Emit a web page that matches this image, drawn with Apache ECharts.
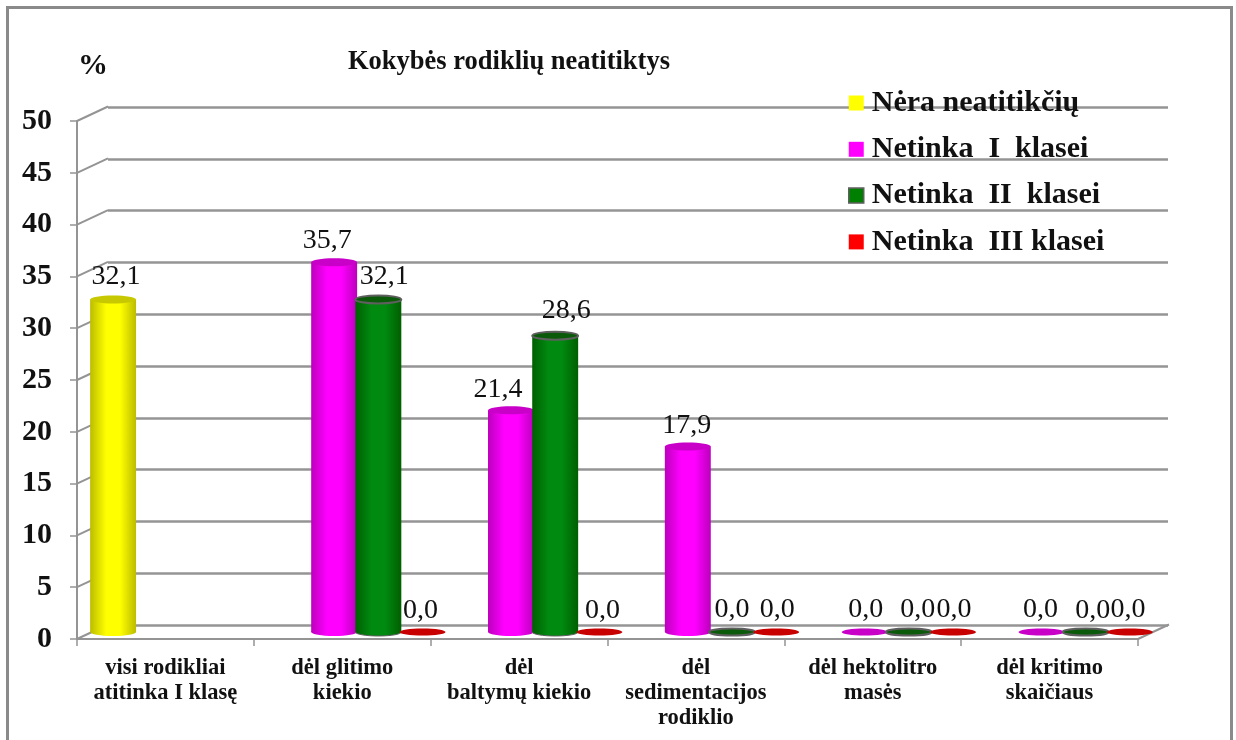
<!DOCTYPE html>
<html>
<head>
<meta charset="utf-8">
<title>Kokybės rodiklių neatitiktys</title>
<style>html, body { margin: 0; background: #fff; } #chart { width: 1236px; height: 740px; }</style>
<script src="https://cdn.jsdelivr.net/npm/echarts@6/dist/echarts.min.js"></script>
</head>
<body>
<div id="chart"></div>
<script>
const categories = [
  'visi rodikliai\natitinka I klasę',
  'dėl glitimo\nkiekio',
  'dėl\nbaltymų kiekio',
  'dėl\nsedimentacijos\nrodiklio',
  'dėl hektolitro\nmasės',
  'dėl kritimo\nskaičiaus',
];
const noMismatch = [32.1, null, null, null, null, null];
const failClass1 = [null, 35.7, 21.4, 17.9, 0, 0];
const failClass2 = [null, 32.1, 28.6, 0, 0, 0];
const failClass3 = [null, 0, 0, 0, 0, 0];
const yTicks = [0, 5, 10, 15, 20, 25, 30, 35, 40, 45, 50];

// nudges for the hand-placed value labels, [dx, dy] by "series-category"
const labelNudge = {
  '0-0': [3, -3], '1-1': [-7, -2], '2-1': [6, -3], '3-1': [-2, -1],
  '1-2': [-13, -1], '2-2': [11, -5], '3-2': [3, -1],
  '1-3': [-1, -1], '2-3': [0, -2], '3-3': [1, -2],
  '1-4': [1, -2], '2-4': [9, -2], '3-4': [1, -2],
  '1-5': [-1, -2], '2-5': [7, -1], '3-5': [-2, -2],
};

const SERIF = '"Liberation Serif", "Times New Roman", serif';
const GRID_GREY = '#949494';
const DEPTH_X = 31, DEPTH_Y = 14.5;   // front plane to back wall
const BAR_DX = 14, BAR_DY = 7;        // cylinders stand mid depth

function pal(edge, mid, cap, stroke) { return { edge, mid, cap, stroke }; }
const palettes = [
  pal('#bcbc00', '#ffff00', '#c8c800', null),
  pal('#bc00bc', '#ff00ff', '#c800c8', null),
  pal('#005f00', '#008a10', '#0a5a0a', '#5f5f5f'),
  pal('#bc0000', '#ff0000', '#c80000', null),
];

function cylinder(seriesIdx) {
  return function (params, api) {
    const val = api.value(1);
    if (val == null || isNaN(val)) return;
    const cat = api.value(0);
    const band = api.size([1, 0])[0];
    const step = band / 4;
    const w = band / 3.85;
    const top = api.coord([cat, val]);
    const base = api.coord([cat, 0]);
    const cx = top[0] + (seriesIdx - 1.5) * step + BAR_DX;
    const yTop = top[1] - BAR_DY, yBase = base[1] - BAR_DY;
    const rx = w / 2, ry = 4;
    const p = palettes[seriesIdx];
    const fill = new echarts.graphic.LinearGradient(0, 0, 1, 0, [
      { offset: 0, color: p.edge }, { offset: 0.35, color: p.mid },
      { offset: 0.65, color: p.mid }, { offset: 1, color: p.edge },
    ]);
    const capStyle = { fill: p.cap, stroke: p.stroke || 'none', lineWidth: 2 };
    const bodyStyle = { fill, stroke: p.stroke || 'none', lineWidth: 1 };
    const children = [];
    if (val > 0) {
      children.push(
        { type: 'ellipse', shape: { cx, cy: yBase, rx, ry }, style: bodyStyle },
        { type: 'rect', shape: { x: cx - rx, y: yTop, width: w, height: yBase - yTop }, style: { fill } }
      );
    }
    children.push({ type: 'ellipse', shape: { cx, cy: yTop, rx, ry: val > 0 ? ry : 3.6 }, style: capStyle });
    const n = labelNudge[seriesIdx + '-' + cat] || [0, 0];
    children.push({
      type: 'text', z2: 5,
      style: {
        x: cx + n[0], y: yTop - 6 + n[1], text: val.toFixed(1).replace('.', ','),
        font: '28px ' + SERIF, fill: '#111', textAlign: 'center', textVerticalAlign: 'bottom',
      },
    });
    return { type: 'group', children };
  };
}

// slanted lines joining the front axis to the back wall
function depthLine(params, api) {
  const v = api.value(0);
  const y = api.coord([0, v])[1];
  const x0 = api.coord([0, v])[0] - api.size([1, 0])[0] / 2;
  return {
    type: 'line',
    shape: { x1: x0, y1: y, x2: x0 + DEPTH_X, y2: y - DEPTH_Y },
    style: { stroke: GRID_GREY, lineWidth: 2 },
  };
}
function floorEdge(params, api) {
  const a = api.coord([5, 0]);
  const x0 = a[0] + api.size([1, 0])[0] / 2;
  return {
    type: 'line',
    shape: { x1: x0, y1: a[1], x2: x0 + DEPTH_X, y2: a[1] - DEPTH_Y },
    style: { stroke: GRID_GREY, lineWidth: 2 },
  };
}

const names = ['Nėra neatitikčių', 'Netinka  I  klasei', 'Netinka  II  klasei', 'Netinka  III klasei'];
const legendColors = ['#ffff00', '#ff00ff', '#008000', '#ff0000'];
const allValues = [noMismatch, failClass1, failClass2, failClass3];

const chart = echarts.init(document.getElementById('chart'), null, { renderer: 'canvas' });
chart.setOption({
  animation: false,
  backgroundColor: '#fff',
  graphic: [{
    type: 'rect', silent: true, z: -10,
    shape: { x: 7.5, y: 7.5, width: 1224, height: 760 },
    style: { fill: 'none', stroke: '#8a8a8a', lineWidth: 3 },
  }],
  title: [
    { text: 'Kokybės rodiklių neatitiktys', left: 343, top: 44,
      textStyle: { fontFamily: SERIF, fontSize: 26.5, fontWeight: 'bold', color: '#111' } },
    { text: '%', left: 73, top: 46,
      textStyle: { fontFamily: SERIF, fontSize: 30, fontWeight: 'bold', color: '#111' } },
  ],
  legend: {
    orient: 'vertical', left: 843, top: 83, itemWidth: 15, itemHeight: 15, itemGap: 16.3,
    textStyle: { fontFamily: SERIF, fontSize: 30, fontWeight: 'bold', color: '#111', lineHeight: 30, padding: [0, 0, 0, 3] },
    data: names.map((name, i) => ({
      name, icon: 'rect',
      itemStyle: { color: legendColors[i], borderColor: i === 2 ? '#5f5f5f' : 'transparent', borderWidth: i === 2 ? 1.5 : 0 },
    })),
  },
  grid: [
    { left: 77, right: 98, top: 121, bottom: 101 },   // front plane
    { left: 108, right: 68, top: 107, bottom: 115 },  // back wall
  ],
  xAxis: [
    {
      type: 'category', gridIndex: 0, data: categories,
      axisLine: { lineStyle: { color: GRID_GREY, width: 2 } },
      axisTick: { show: true, alignWithLabel: false, length: 7, lineStyle: { color: GRID_GREY, width: 1.5 } },
      axisLabel: { fontFamily: SERIF, fontSize: 22.5, fontWeight: 'bold', color: '#111', lineHeight: 25, margin: 17, interval: 0 },
    },
    { type: 'category', gridIndex: 1, data: categories, show: false },
  ],
  yAxis: [
    {
      type: 'value', gridIndex: 0, min: 0, max: 50, interval: 5,
      axisLine: { show: true, lineStyle: { color: GRID_GREY, width: 2 } },
      axisTick: { show: true, length: 7, lineStyle: { color: GRID_GREY, width: 1.5 } },
      axisLabel: { fontFamily: SERIF, fontSize: 30, fontWeight: 'bold', color: '#111', margin: 25 },
      splitLine: { show: false },
    },
    {
      type: 'value', gridIndex: 1, min: 0, max: 50, interval: 5,
      axisLine: { show: false }, axisTick: { show: false }, axisLabel: { show: false },
      splitLine: { show: true, lineStyle: { color: GRID_GREY, width: 2.5 } },
    },
  ],
  series: [
    { type: 'custom', silent: true, z: 1, xAxisIndex: 0, yAxisIndex: 0, data: yTicks.map(v => [v]), renderItem: depthLine, encode: { y: 0 } },
    { type: 'custom', silent: true, z: 1, xAxisIndex: 0, yAxisIndex: 0, data: [[5, 0]], renderItem: floorEdge },
  ].concat(names.map((name, i) => ({
    type: 'custom', name, z: 3 + i, xAxisIndex: 0, yAxisIndex: 0,
    itemStyle: { color: legendColors[i] },
    data: allValues[i].map((v, c) => [c, v]),
    encode: { x: 0, y: 1 },
    renderItem: cylinder(i),
  }))),
});
</script>
</body>
</html>
